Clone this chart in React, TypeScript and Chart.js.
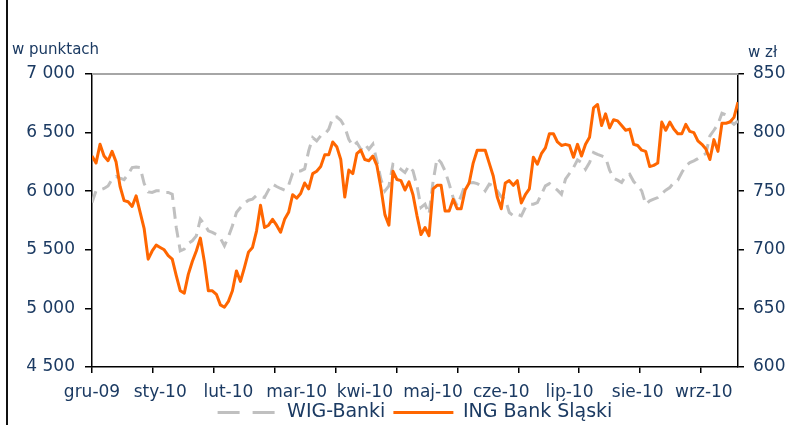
import React, { useEffect, useRef } from 'react';
import { Chart, registerables } from 'chart.js';

Chart.register(...registerables);

// ---- data (one value per trading-day step, Dec 2009 – Sep 2010) ----
const wigBanki = [
  5903, 6003, 6011, 6023, 6045, 6102, 6125, 6111, 6099, 6145, 6202, 6207, 6202, 6065, 5994, 5989, 6003, 6003, 5989, 5989,
  5974, 5690, 5491, 5506, 5554, 5577, 5619, 5762,
  5719, 5662, 5648, 5631, 5599, 5534, 5611, 5705, 5818, 5861, 5898, 5923, 5932, 5963, 5955, 5946, 6011, 6060, 6040, 6023,
  6009, 6050, 6153, 6173, 6173, 6190,
  6344, 6457, 6429, 6472, 6486, 6528, 6628, 6634, 6605, 6548, 6443, 6386, 6415, 6358, 6401, 6358, 6401, 6259, 6102, 6003,
  6045, 6230, 6216, 6187, 6159, 6216, 6173, 6045,
  5861, 5889, 5804, 6082, 6281, 6244, 6173, 6065, 5946, 5875, 5960, 6060, 6071, 6074, 6065, 6045, 6003, 6060, 6045, 6003,
  5952, 5932, 5818, 5790, 5804, 5790,
  5861, 5889, 5889, 5903, 5974, 6045, 6065, 6037, 6009, 5974, 6102, 6151, 6202, 6267, 6244, 6187, 6244, 6330, 6315, 6301,
  6287, 6179, 6111, 6094, 6074, 6131, 6145,
  6082, 6045, 6003, 5889, 5918, 5932, 5946, 5980, 6009, 6031, 6074, 6094, 6159, 6216, 6244, 6259, 6278, 6301, 6321, 6472,
  6520, 6571, 6665, 6651, 6599, 6571, 6599,
];

const ingBankSlaski = [
  780, 774, 790, 780, 776, 784, 775, 754, 742, 741, 737, 746, 732, 718, 692, 699, 704, 702, 700, 695,
  692, 678, 665, 663, 679, 690, 699, 710,
  690, 665, 665, 662, 653, 651, 656, 665, 682, 673, 685, 698, 702, 716, 738, 719, 721, 726, 721, 715,
  726, 732, 747, 744, 748, 757,
  752, 765, 767, 771, 781, 781, 792, 788, 777, 745, 768, 765, 782, 785, 777, 776, 780, 772, 753, 730,
  721, 767, 760, 759, 751, 758, 747, 729,
  713, 719, 712, 752, 755, 755, 733, 733, 743, 735, 735, 751, 757, 774, 785, 785, 785, 774, 763, 745,
  735, 757, 759, 755, 759, 740,
  747, 752, 779, 773, 782, 787, 799, 799, 792, 789, 790, 789, 779, 790, 780, 790, 796, 821, 824, 806,
  816, 804, 811, 810, 806, 802, 803,
  790, 789, 785, 784, 771, 772, 774, 809, 802, 809, 803, 799, 799, 807, 801, 800, 793, 790, 786, 777,
  794, 784, 808, 808, 809, 813, 826,
];

const seriesNames = ['WIG-Banki', 'ING Bank Śląski'];
const monthLabels = ['gru-09', 'sty-10', 'lut-10', 'mar-10', 'kwi-10', 'maj-10', 'cze-10', 'lip-10', 'sie-10', 'wrz-10'];
const monthLabelPos = [0, 17, 34, 51, 68, 85, 102, 119, 136, 152.5];
const tickMarkPos = [0, 15.2, 30.4, 45.5, 60.7, 75.9, 91.1, 106.3, 121.4, 136.6, 151.8];
const leftAxisTitle = 'w punktach';
const rightAxisTitle = 'w zł';
const leftRange = [4500, 7000, 500];
const rightRange = [600, 850, 50];

// ---- styles ----
const NAVY = '#1B3A62';
const ORANGE = '#FF6600';
const GRAY = '#C0C0C0';
const FONT = "'DejaVu Sans', 'Liberation Sans', sans-serif";

const fmtThousands = (v: number) => String(v).replace(/\B(?=(\d{3})+(?!\d))/g, ' ');

const decorPlugin = {
  id: 'decor',
  afterLayout(chart: any) {
    // nudge the legend so it sits centred under the plot like the original
    const lg = chart.legend;
    if (lg) {
      lg.left += 15;
      lg.right += 15;
      lg.top -= 6;
      lg.bottom -= 6;
    }
  },
  beforeDatasetsDraw(chart: any) {
    const { ctx, chartArea } = chart;
    ctx.save();
    ctx.strokeStyle = '#A6A6A6';
    ctx.lineWidth = 2;
    ctx.beginPath();
    ctx.moveTo(chartArea.left, chartArea.top);
    ctx.lineTo(chartArea.right, chartArea.top);
    ctx.stroke();
    ctx.restore();
  },
  afterDraw(chart: any) {
    const { ctx, chartArea } = chart;
    ctx.save();
    ctx.font = `15px ${FONT}`;
    ctx.fillStyle = NAVY;
    ctx.textBaseline = 'middle';
    ctx.textAlign = 'left';
    ctx.fillText(leftAxisTitle, chartArea.left - 80, chartArea.top - 24);
    ctx.fillText(rightAxisTitle, chartArea.right + 10, chartArea.top - 21);
    ctx.restore();
  },
};

export default function App() {
  const ref = useRef<HTMLCanvasElement>(null);

  useEffect(() => {
    if (!ref.current) return;
    const N = ingBankSlaski.length;
    const datasets = [
      {
        label: seriesNames[0],
        data: wigBanki.map((v, i) => ({ x: i, y: v })),
        xAxisID: 'x2',
        yAxisID: 'y',
        borderColor: GRAY,
        backgroundColor: GRAY,
        borderWidth: 3,
        borderDash: [12, 7],
        pointRadius: 0,
        tension: 0,
        order: 1,
      },
      {
        label: seriesNames[1],
        data: ingBankSlaski.map((v, i) => ({ x: i, y: v })),
        xAxisID: 'x2',
        yAxisID: 'y1',
        borderColor: ORANGE,
        backgroundColor: ORANGE,
        borderWidth: 3,
        borderJoinStyle: 'round',
        pointRadius: 0,
        tension: 0,
        order: 0,
      },
    ];

    const chart = new Chart(ref.current, {
      type: 'line',
      data: { datasets } as any,
      plugins: [decorPlugin],
      options: {
        responsive: false,
        animation: false,
        events: [],
        layout: { padding: { top: 74, left: 8, right: 0, bottom: 2 } },
        plugins: {
          tooltip: { enabled: false },
          legend: {
            position: 'bottom',
            labels: {
              usePointStyle: true,
              pointStyle: 'line',
              pointStyleWidth: 60,
              padding: 8,
              color: NAVY,
              font: { family: FONT, size: 19 },
              generateLabels: (c: any) =>
                c.data.datasets.map((ds: any, i: number) => ({
                  text: ds.label,
                  fillStyle: ds.borderColor,
                  strokeStyle: ds.borderColor,
                  lineWidth: ds.borderWidth,
                  lineDash: i === 0 ? [22, 13] : [],
                  lineCap: 'butt',
                  pointStyle: 'line',
                  fontColor: NAVY,
                  hidden: false,
                  datasetIndex: i,
                })),
            },
          },
        },
        scales: {
          x2: {
            type: 'linear',
            position: 'bottom',
            min: 0,
            max: N - 1,
            weight: 0,
            afterBuildTicks: (s: any) => {
              s.ticks = tickMarkPos.map((v) => ({ value: v }));
            },
            afterFit: (s: any) => {
              s.height = 6;
            },
            ticks: { display: false },
            grid: { display: true, drawOnChartArea: false, drawTicks: true, tickLength: 6, color: '#000', lineWidth: 1.5 },
            border: { display: true, color: '#000', width: 1.5 },
          },
          xl: {
            type: 'linear',
            position: 'bottom',
            min: 0,
            max: N - 1,
            weight: 1,
            afterBuildTicks: (s: any) => {
              s.ticks = monthLabelPos.map((v) => ({ value: v }));
            },
            afterFit: (s: any) => {
              s.height = 28;
            },
            ticks: {
              autoSkip: false,
              maxRotation: 0,
              minRotation: 0,
              padding: 9,
              color: NAVY,
              font: { family: FONT, size: 17 },
              callback: (_v: any, i: number) => monthLabels[i],
            },
            grid: { display: false, drawTicks: false },
            border: { display: false },
          },
          y: {
            type: 'linear',
            position: 'left',
            min: leftRange[0],
            max: leftRange[1],
            afterFit: (s: any) => {
              s.width = 84;
            },
            ticks: {
              stepSize: leftRange[2],
              padding: 10,
              color: NAVY,
              font: { family: FONT, size: 17 },
              callback: (v: any) => fmtThousands(Number(v)),
            },
            grid: { drawOnChartArea: false, drawTicks: true, tickLength: 7, color: '#000', lineWidth: 1.5 },
            border: { display: true, color: '#000', width: 1.5 },
          },
          y1: {
            type: 'linear',
            position: 'right',
            min: rightRange[0],
            max: rightRange[1],
            afterFit: (s: any) => {
              s.width = 54;
            },
            ticks: {
              stepSize: rightRange[2],
              padding: 9,
              color: NAVY,
              font: { family: FONT, size: 17 },
            },
            grid: { drawOnChartArea: false, drawTicks: true, tickLength: 6, color: '#000', lineWidth: 1.5 },
            border: { display: true, color: '#000', width: 1.5 },
          },
        },
      } as any,
    });
    return () => chart.destroy();
  }, []);

  return (
    <div style={{ position: 'fixed', left: 0, top: 0, width: 792, height: 425, overflow: 'hidden', background: '#fff' }}>
      <canvas ref={ref} width={792} height={440} style={{ display: 'block', width: 792, height: 440 }} />
      <div style={{ position: 'absolute', left: 6, top: 0, width: 2, height: 425, background: '#111' }} />
    </div>
  );
}
